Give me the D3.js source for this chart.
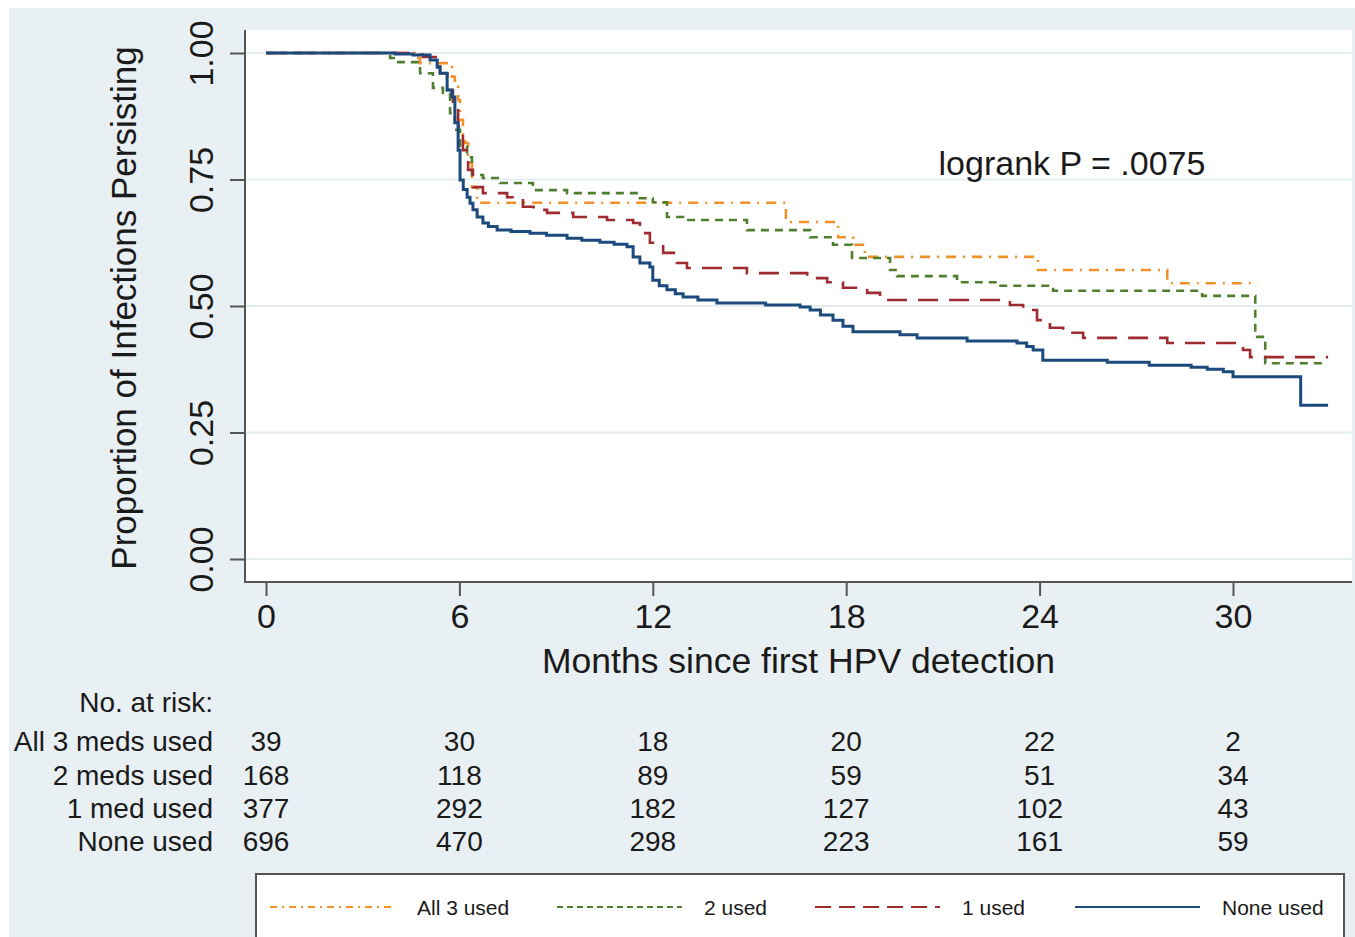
<!DOCTYPE html>
<html>
<head>
<meta charset="utf-8">
<script src="https://cdn.jsdelivr.net/npm/d3@7"></script>
<style>
  body { margin: 0; background: #fff; }
  text { font-family: "Liberation Sans", Arial, Helvetica, sans-serif; fill: #1a1a1a; }
</style>
</head>
<body>
<div id="chart"></div>
<script>
// Kaplan-Meier curves (months, proportion persisting)
var allThreeT = [0, 4.62, 4.78, 5.71, 5.77, 5.86, 5.96, 6.02, 6.11, 6.17, 6.27, 6.39, 6.55, 16.13, 17.75, 18.21, 18.58, 23.95, 27.96];
var allThreeS = [1, 0.99, 0.98, 0.972, 0.953, 0.933, 0.907, 0.868, 0.838, 0.822, 0.783, 0.735, 0.704, 0.666, 0.636, 0.621, 0.597, 0.571, 0.545];
var allThreeEnd = 30.78;

var twoT = [0, 3.85, 4.06, 4.78, 5.18, 5.49, 5.71, 5.86, 6.02, 6.24, 6.39, 6.73, 7.26, 8.28, 9.34, 11.6, 12.0, 12.44, 12.94, 14.92, 16.88, 17.59, 18.18, 19.36, 19.58, 21.44, 22.68, 24.42, 29.04, 30.69, 30.75, 31.0];
var twoS = [1, 0.99, 0.982, 0.96, 0.931, 0.921, 0.881, 0.848, 0.814, 0.794, 0.759, 0.753, 0.743, 0.729, 0.723, 0.713, 0.705, 0.676, 0.67, 0.65, 0.636, 0.621, 0.595, 0.571, 0.559, 0.547, 0.54, 0.53, 0.52, 0.443, 0.439, 0.387];
var twoEnd = 32.8;

var oneT = [0, 4.5, 4.87, 5.4, 5.62, 5.8, 5.96, 6.11, 6.27, 6.42, 6.73, 7.48, 7.97, 8.3, 8.72, 9.53, 10.58, 11.39, 11.6, 11.91, 12.32, 12.75, 13.06, 14.92, 16.79, 17.41, 17.9, 18.65, 19.05, 23.08, 23.49, 23.92, 24.32, 24.73, 25.35, 27.96, 30.31, 30.53];
var oneS = [1, 0.997, 0.992, 0.96, 0.927, 0.893, 0.854, 0.808, 0.769, 0.735, 0.723, 0.715, 0.696, 0.69, 0.684, 0.676, 0.67, 0.664, 0.644, 0.625, 0.605, 0.585, 0.575, 0.565, 0.555, 0.547, 0.536, 0.526, 0.512, 0.502, 0.492, 0.472, 0.457, 0.447, 0.437, 0.427, 0.413, 0.399];
var oneEnd = 32.95;

var noneT = [0, 4.0, 4.56, 5.09, 5.31, 5.4, 5.62, 5.77, 5.86, 5.96, 6.02, 6.12, 6.24, 6.33, 6.42, 6.55, 6.73, 6.9, 7.17, 7.6, 8.19, 8.7, 9.34, 9.8, 10.36, 10.8, 11.2, 11.39, 11.6, 11.91, 12.0, 12.2, 12.44, 12.7, 12.94, 13.4, 13.99, 15.5, 16.57, 16.88, 17.2, 17.59, 17.9, 18.21, 19.67, 20.2, 21.75, 23.3, 23.6, 23.8, 24.1, 26.1, 27.4, 28.7, 29.2, 29.7, 30.0, 32.1];
var noneS = [1, 0.998, 0.996, 0.986, 0.972, 0.96, 0.927, 0.913, 0.862, 0.808, 0.749, 0.73, 0.715, 0.703, 0.69, 0.676, 0.664, 0.657, 0.65, 0.647, 0.644, 0.64, 0.634, 0.63, 0.626, 0.622, 0.617, 0.597, 0.585, 0.577, 0.551, 0.54, 0.532, 0.524, 0.518, 0.512, 0.506, 0.502, 0.498, 0.492, 0.482, 0.472, 0.46, 0.449, 0.443, 0.437, 0.431, 0.427, 0.42, 0.413, 0.393, 0.389, 0.383, 0.379, 0.375, 0.37, 0.36, 0.304];
var noneEnd = 32.95;

// axis ticks
var xTicks = [0, 6, 12, 18, 24, 30];
var yTicks = [0, 0.25, 0.5, 0.75, 1];

// number at risk table
var riskRows = ["All 3 meds used", "2 meds used", "1 med used", "None used"];
var riskAllThree = [39, 30, 18, 20, 22, 2];
var riskTwo = [168, 118, 89, 59, 51, 34];
var riskOne = [377, 292, 182, 127, 102, 43];
var riskNone = [696, 470, 298, 223, 161, 59];

var legendLabels = ["All 3 used", "2 used", "1 used", "None used"];

var svgWidth = 1355, svgHeight = 937;
var svg = d3.select("#chart").append("svg")
    .attr("width", svgWidth)
    .attr("height", svgHeight);

// outer graph region
svg.append("rect")
    .attr("x", 9).attr("y", 8)
    .attr("width", svgWidth - 9).attr("height", svgHeight - 8)
    .attr("fill", "#e9f0f3");

var plot = {left: 245, right: 1352, top: 30, bottom: 582};
svg.append("rect")
    .attr("x", plot.left).attr("y", plot.top)
    .attr("width", plot.right - plot.left).attr("height", plot.bottom - plot.top)
    .attr("fill", "#fff");

var x = d3.scaleLinear().domain([0, 30]).range([266, 1233]);
var y = d3.scaleLinear().domain([0, 1]).range([559, 53]);

// gridlines
svg.append("g").selectAll("line")
    .data(yTicks)
    .enter().append("line")
    .attr("x1", plot.left).attr("x2", plot.right)
    .attr("y1", d => y(d)).attr("y2", d => y(d))
    .attr("stroke", "#e4edf0")
    .attr("stroke-width", 2);

// y axis
var yAxis = svg.append("g")
    .attr("transform", `translate(${plot.left},0)`)
    .call(d3.axisLeft(y).tickValues(yTicks).tickFormat(d3.format(".2f")).tickSize(15).tickPadding(0));
yAxis.select(".domain").remove();
yAxis.selectAll(".tick line").attr("stroke", "#555").attr("stroke-width", 2);
yAxis.selectAll(".tick text")
    .attr("x", 0).attr("y", 0)
    .attr("transform", "translate(-44,0) rotate(-90)")
    .attr("text-anchor", "middle")
    .attr("dy", "0.35em")
    .style("font-size", "34px")
    .style("font-family", "'Liberation Sans', Arial, sans-serif")
    .attr("fill", "#1a1a1a");

// x axis
var xAxis = svg.append("g")
    .attr("transform", `translate(0,${plot.bottom})`)
    .call(d3.axisBottom(x).tickValues(xTicks).tickSize(14).tickPadding(8));
xAxis.select(".domain").remove();
xAxis.selectAll(".tick line").attr("stroke", "#555").attr("stroke-width", 2);
xAxis.selectAll(".tick text")
    .style("font-size", "34px")
    .style("font-family", "'Liberation Sans', Arial, sans-serif")
    .attr("fill", "#1a1a1a");

// axis lines
svg.append("line")
    .attr("x1", plot.left).attr("x2", plot.left)
    .attr("y1", plot.top).attr("y2", plot.bottom + 1)
    .attr("stroke", "#555").attr("stroke-width", 2);
svg.append("line")
    .attr("x1", plot.left - 1).attr("x2", plot.right)
    .attr("y1", plot.bottom).attr("y2", plot.bottom)
    .attr("stroke", "#555").attr("stroke-width", 2);

// axis titles
svg.append("text")
    .attr("transform", `translate(136,${(plot.top + plot.bottom) / 2 + 2}) rotate(-90)`)
    .attr("text-anchor", "middle")
    .style("font-size", "35px")
    .text("Proportion of Infections Persisting");
svg.append("text")
    .attr("x", (plot.left + plot.right) / 2)
    .attr("y", 673)
    .attr("text-anchor", "middle")
    .style("font-size", "35.5px")
    .text("Months since first HPV detection");

svg.append("text")
    .attr("x", 1072).attr("y", 175)
    .attr("text-anchor", "middle")
    .style("font-size", "34px")
    .text("logrank P = .0075");

// curves
var groups = [
    {t: allThreeT, s: allThreeS, end: allThreeEnd, color: "#f2902a", dash: "10,7,2,7", width: 2.6},
    {t: twoT, s: twoS, end: twoEnd, color: "#4f7f2e", dash: "8,6", width: 2.6},
    {t: oneT, s: oneS, end: oneEnd, color: "#9e2b30", dash: "20,11", width: 2.6},
    {t: noneT, s: noneS, end: noneEnd, color: "#1c4a7c", dash: null, width: 3}
];

var stepLine = d3.line()
    .x(d => x(d[0]))
    .y(d => y(d[1]))
    .curve(d3.curveStepAfter);

groups.forEach(function(g) {
    var pts = g.t.map((t, i) => [t, g.s[i]]);
    pts.push([g.end, g.s[g.s.length - 1]]);
    svg.append("path")
        .datum(pts)
        .attr("d", stepLine)
        .attr("fill", "none")
        .attr("stroke", g.color)
        .attr("stroke-width", g.width)
        .attr("stroke-dasharray", g.dash);
});

// number at risk
svg.append("text")
    .attr("x", 213).attr("y", 712)
    .attr("text-anchor", "end")
    .style("font-size", "28px")
    .text("No. at risk:");

var riskData = [riskAllThree, riskTwo, riskOne, riskNone];
var rowY = [751, 785, 818, 851];
riskRows.forEach(function(label, r) {
    svg.append("text")
        .attr("x", 213).attr("y", rowY[r])
        .attr("text-anchor", "end")
        .style("font-size", "28px")
        .text(label);
    svg.append("g").selectAll("text")
        .data(riskData[r])
        .enter().append("text")
        .attr("x", (d, i) => x(xTicks[i]))
        .attr("y", rowY[r])
        .attr("text-anchor", "middle")
        .style("font-size", "28px")
        .text(d => d);
});

// legend
var legend = svg.append("g");
legend.append("rect")
    .attr("x", 256).attr("y", 874)
    .attr("width", 1088).attr("height", 80)
    .attr("fill", "#fff")
    .attr("stroke", "#555")
    .attr("stroke-width", 2);

var legendX = [270, 557, 815, 1075];
var legendDash = ["7,5,2,5", "6,4", "16,8", null];
legendLabels.forEach(function(label, i) {
    var g = groups[i];
    legend.append("line")
        .attr("x1", legendX[i]).attr("x2", legendX[i] + 125)
        .attr("y1", 907).attr("y2", 907)
        .attr("stroke", g.color)
        .attr("stroke-width", 2.2)
        .attr("stroke-dasharray", legendDash[i]);
    legend.append("text")
        .attr("x", legendX[i] + 147).attr("y", 915)
        .style("font-size", "21px")
        .text(label);
});
</script>
</body>
</html>
